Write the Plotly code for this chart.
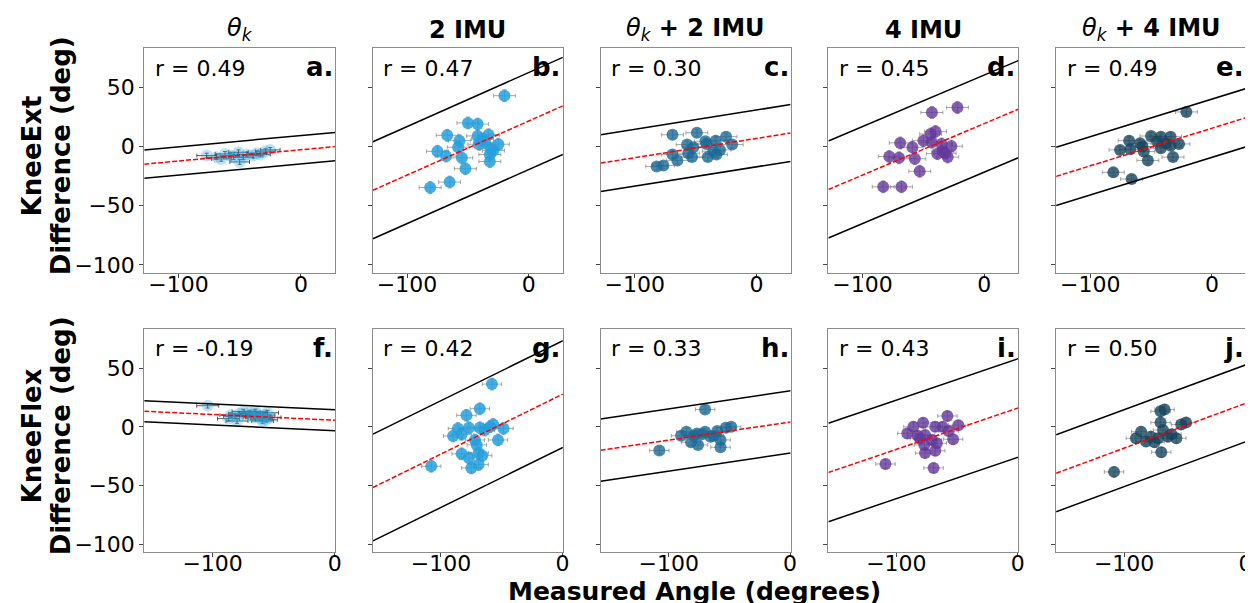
import plotly.graph_objects as go
from plotly.subplots import make_subplots

W, H = 1253, 603
FONT = "DejaVu Sans"

col_titles = ["<i>θ<sub>k</sub></i>", "<b>2 IMU</b>", "<i>θ<sub>k</sub></i><b> + 2 IMU</b>",
              "<b>4 IMU</b>", "<i>θ<sub>k</sub></i><b> + 4 IMU</b>"]
row_names = ["KneeExt", "KneeFlex"]
row_units = "Difference (deg)"
panel_letters = [["a.", "b.", "c.", "d.", "e."], ["f.", "g.", "h.", "i.", "j."]]
r_values = [[0.49, 0.47, 0.30, 0.45, 0.49], [-0.19, 0.42, 0.33, 0.43, 0.50]]
x_title = "<b>Measured Angle (degrees)</b>"

# ---- KneeExt row data ----
ext_theta_x = [-77, -69, -62, -55, -51, -50, -44, -39, -33, -29, -25, -58, -47, -65, -36]
ext_theta_y = [-7.6, -9, -6.2, -9, -4.8, -13, -6.7, -7.6, -6.7, -3.9, -2.8, -7.6, -9, -10.4, -5.6]
ext_imu2_x = [-20, -50, -42, -67, -57, -42, -33, -58, -75, -68, -55, -41, -36, -25, -31, -29, -32, -32, -52, -65, -81, -38]
ext_imu2_y = [43, 20, 19, 9.5, 5, 9, 10, -0.6, -4, -8, -9.5, 2, 3.6, 2, -2, -3.4, -6.7, -12.6, -18.7, -30, -34.6, 6.4]
ext_thimu2_x = [-69, -49, -57, -42, -33.5, -25, -20, -69, -65, -56, -53, -40, -33, -30, -82, -76.5, -52, -41, -35.5]
ext_thimu2_y = [10, 11.7, 1.7, 4.5, 5, 8.4, 1.7, -6.7, -11.7, -5.6, -8.9, -8.9, -6.7, -2.8, -16.8, -15.9, -0.6, 2.2, -3.9]
ext_imu4_x = [-22, -43, -40, -44, -50, -69, -59, -43, -35, -27, -34, -32, -30, -78, -70, -57, -53, -83, -68, -38.5]
ext_imu4_y = [33, 28.8, 12.8, 10.6, 5, 3.1, -0.6, 3.6, 2.2, 0.3, -3.9, -5.6, -8.9, -8.4, -9.5, -10.3, -20.9, -34, -34, -6]
ext_thimu4_x = [-21, -68, -50, -42, -34, -59, -57, -75.5, -67, -42, -34, -27, -56, -32, -52.6, -81, -66, -45, -38]
ext_thimu4_y = [29.3, 5, 8.9, 8.4, 8.4, 2.8, 0, -2.8, -2.2, -1.4, 0.6, 2.2, -4.2, -8.9, -11.7, -21.8, -27.4, 4.2, 2.8]

# ---- KneeFlex row data ----
flex_theta_x = [-104, -87, -85, -82, -78, -75, -72, -70, -68, -66, -64, -62, -60, -58, -56, -55, -53, -80, -65, -59]
flex_theta_y = [18, 7, 10, 9, 11, 13, 9, 12, 10, 8, 11, 9, 7, 10, 6, 12, 8, 5, 13, 5]
flex_imu2_x = [-58, -68, -79, -86, -77, -68, -57, -48.5, -90, -83, -72, -53, -70.5, -83, -69, -66, -77, -69, -75, -108, -64, -59.5]
flex_imu2_y = [36.4, 15.4, 9.8, -1.4, -0.8, -0.8, 2, -1.4, -7.8, -6.4, -11.2, -11.2, -15.4, -23, -22.4, -24.6, -26.6, -32.2, -35, -33.6, -2.8, 0]
flex_thimu2_x = [-70, -48.5, -53, -60, -70, -76.6, -85.4, -89.8, -81.6, -75.8, -65.6, -57.3, -57.3, -107.7, -79.3, -72.5, -62.8]
flex_thimu2_y = [14.8, 0, -0.8, -3.6, -4.2, -5.6, -4.2, -7.6, -13.2, -15.4, -8.4, -11.2, -17.4, -20.2, -7.6, -6.4, -7.6]
flex_imu4_x = [-58, -78, -86, -68, -62, -49, -91, -82.5, -76.4, -53.3, -70.8, -77, -66.7, -68, -76.4, -69.4, -109, -57, -80.6]
flex_imu4_y = [9.2, 3.4, 0, 0, 0, 1.4, -5.6, -7.6, -7, -10.6, -11.2, -15.4, -14, -20.4, -22.4, -35, -31.7, -3.6, -10]
flex_thimu4_x = [-66.7, -70, -70, -49, -53, -86, -90.3, -82, -77.8, -68, -64, -57, -72, -69.4, -108.3, -75, -61]
flex_thimu4_y = [14.8, 13.2, 3.6, 3.6, 2, -4.2, -9.8, -12.6, -8.4, -2.8, -8.4, -9.8, -9.8, -21.6, -38.4, -13.2, -6.4]

panel_x = [[ext_theta_x, ext_imu2_x, ext_thimu2_x, ext_imu4_x, ext_thimu4_x],
           [flex_theta_x, flex_imu2_x, flex_thimu2_x, flex_imu4_x, flex_thimu4_x]]
panel_y = [[ext_theta_y, ext_imu2_y, ext_thimu2_y, ext_imu4_y, ext_thimu4_y],
           [flex_theta_y, flex_imu2_y, flex_thimu2_y, flex_imu4_y, flex_thimu4_y]]

# error bar half-widths (deg) per panel
x_err = [[8, 9, 9, 9, 9], [9, 8, 8, 8, 8]]
y_err = [[2, 5, 3, 5, 3], [2, 5, 3, 4, 4]]

# regression lines (slope, intercept) and band half-width
fit_slope = [[0.095, 0.457, 0.163, 0.435, 0.318], [-0.049, 0.509, 0.154, 0.352, 0.382]]
fit_icpt = [[-2.7, 21.6, 6.9, 19.4, 15.5], [5.6, 27.7, 4.1, 16.0, 20.0]]
fit_band = [[12, 41, 24, 41, 24.6], [9, 45.5, 26.5, 42, 32.8]]

colors = ["rgba(42,163,223,0.3)", "rgba(35,160,222,0.85)", "rgba(27,106,150,0.8)",
          "rgba(100,55,155,0.8)", "rgba(24,70,95,0.8)"]
err_colors = ["rgba(40,40,40,0.75)", "rgba(110,110,110,0.6)", "rgba(110,110,110,0.6)",
              "rgba(110,110,110,0.6)", "rgba(110,110,110,0.6)"]

x_ranges = [[-128, 28], [-156, 0.4]]
y_range = [-107, 83.5]

col_px = [(137, 329), (367, 558), (596, 787), (825, 1016), (1054, 1245)]
row_px = [(40, 267), (323, 548)]

fig = make_subplots(rows=2, cols=5)

for r in range(2):
    for c in range(5):
        xs, ys = panel_x[r][c], panel_y[r][c]
        fig.add_trace(go.Scatter(
            x=xs, y=ys, mode="markers",
            marker=dict(size=12, color=colors[c], line=dict(width=0)),
            error_x=dict(type="constant", value=x_err[r][c], color=err_colors[c], thickness=1, width=2),
            error_y=dict(type="constant", value=y_err[r][c], color=err_colors[c], thickness=1, width=2),
            showlegend=False), row=r + 1, col=c + 1)
        x0, x1 = x_ranges[r]
        m, b, d = fit_slope[r][c], fit_icpt[r][c], fit_band[r][c]
        lx = [x0, x1]
        for off in (d, -d):
            fig.add_trace(go.Scatter(x=lx, y=[m * v + b + off for v in lx], mode="lines",
                                     line=dict(color="black", width=1.5), showlegend=False),
                          row=r + 1, col=c + 1)
        fig.add_trace(go.Scatter(x=lx, y=[m * v + b for v in lx], mode="lines",
                                 line=dict(color="red", width=1.5, dash="5px,2px"), showlegend=False),
                      row=r + 1, col=c + 1)

        idx = r * 5 + c + 1
        xa = "xaxis" if idx == 1 else f"xaxis{idx}"
        ya = "yaxis" if idx == 1 else f"yaxis{idx}"
        cx0, cx1 = col_px[c]
        ry0, ry1 = row_px[r]
        fig.layout[xa].update(domain=[cx0 / W, cx1 / W], range=x_ranges[r], tickvals=[-100, 0],
                              showline=True, mirror=True, linecolor="#8c8c8c", linewidth=1,
                              ticks="outside", ticklen=4, tickcolor="#444", showgrid=False,
                              zeroline=False, ticklabelstandoff=-13,
                              tickfont=dict(size=22, color="black", family=FONT))
        fig.layout[ya].update(domain=[1 - ry1 / H, 1 - ry0 / H], range=y_range,
                              tickvals=[-100, -50, 0, 50], showticklabels=(c == 0),
                              showline=True, mirror=True, linecolor="#8c8c8c", linewidth=1,
                              ticks="outside", ticklen=4, tickcolor="#444", showgrid=False,
                              zeroline=False, tickfont=dict(size=22, color="black", family=FONT))
        xd = ("x" if idx == 1 else f"x{idx}") + " domain"
        yd = ("y" if idx == 1 else f"y{idx}") + " domain"
        fig.add_annotation(text=f"r = {r_values[r][c]:.2f}", xref=xd, yref=yd, x=0.045, y=0.91,
                           xanchor="left", yanchor="middle", showarrow=False,
                           font=dict(size=22, color="black", family=FONT))
        fig.add_annotation(text=f"<b>{panel_letters[r][c]}</b>", xref=xd, yref=yd, x=1.0, y=0.915,
                           xanchor="right", yanchor="middle", showarrow=False,
                           font=dict(size=26, color="black", family=FONT))

for c in range(5):
    cx = (col_px[c][0] + col_px[c][1]) / 2
    fig.add_annotation(text=col_titles[c], xref="paper", yref="paper", x=cx / W, y=1 - 22 / H,
                       xanchor="center", yanchor="middle", showarrow=False,
                       font=dict(size=24, color="black", family=FONT))

for r in range(2):
    cy = (row_px[r][0] + row_px[r][1]) / 2 - 5
    fig.add_annotation(text=f"<b>{row_names[r]}</b>", xref="paper", yref="paper", x=24 / W, y=1 - cy / H,
                       xanchor="center", yanchor="middle", textangle=-90, showarrow=False,
                       font=dict(size=26, color="black", family=FONT))
    fig.add_annotation(text=f"<b>{row_units}</b>", xref="paper", yref="paper", x=53 / W, y=1 - cy / H,
                       xanchor="center", yanchor="middle", textangle=-90, showarrow=False,
                       font=dict(size=26, color="black", family=FONT))

fig.add_annotation(text=x_title, xref="paper", yref="paper", x=690 / W, y=1 - 587 / H,
                   xanchor="center", yanchor="middle", showarrow=False,
                   font=dict(size=25, color="black", family=FONT))

fig.update_layout(width=W, height=H, margin=dict(l=0, r=0, t=0, b=0),
                  plot_bgcolor="white", paper_bgcolor="white",
                  font=dict(family=FONT, color="black"))

fig.write_html("out.html")
